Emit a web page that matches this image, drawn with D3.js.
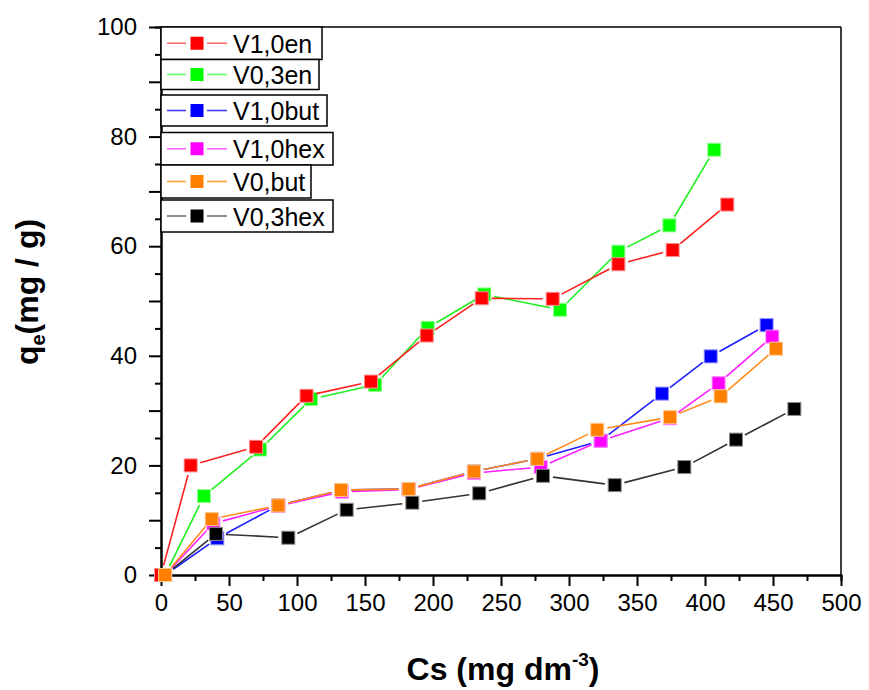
<!DOCTYPE html>
<html>
<head>
<meta charset="utf-8">
<script src="https://cdn.jsdelivr.net/npm/d3@7"></script>
<style>
  html, body { margin: 0; padding: 0; background: #fff; }
  svg { display: block; font-family: "Liberation Sans", Arial, sans-serif; }
</style>
</head>
<body>
<svg id="chart" width="869" height="690"></svg>
<script>
// ---------- data ----------
const seriesNames = ["V1,0en", "V0,3en", "V1,0but", "V1,0hex", "V0,but", "V0,3hex"];
const seriesColors = ["#ff0000", "#00ff00", "#0000ff", "#ff00ff", "#ff8000", "#000000"];
const lineColors = ["#ff2020", "#20f020", "#2020ff", "#ff20ff", "#ff8c1a", "#333333"];
const legendLineColors = ["#ff6a6a", "#66ff66", "#4040ff", "#ff60ff", "#ffa040", "#707070"];

const cs_V10en  = [0, 21.8, 69.9, 107, 154.4, 195.4, 235.8, 288, 336.3, 376.2, 416.4];
const qe_V10en  = [0, 20.0, 23.4, 32.7, 35.3, 43.7, 50.5, 50.4, 56.7, 59.3, 67.6];
const cs_V03en  = [3, 31.6, 72.8, 110.3, 157.4, 196.1, 237.7, 293.4, 336.3, 373.8, 406.8];
const qe_V03en  = [0, 14.4, 22.9, 32.1, 34.7, 45.1, 51.2, 48.4, 59.0, 63.8, 77.6];
const cs_V10but = [3, 41.4, 86.3, 132.4, 182.1, 230.1, 276.7, 323.3, 368.4, 404.2, 445.3];
const qe_V10but = [0, 6.7, 12.7, 15.5, 15.7, 18.9, 21.2, 24.5, 33.1, 39.9, 45.6];
const cs_V10hex = [3, 38.5, 86.3, 133, 182, 230, 279.2, 323.3, 374.3, 410, 449.5];
const qe_V10hex = [0, 9.4, 12.6, 15.2, 15.6, 18.6, 19.7, 24.5, 28.6, 35.0, 43.5];
const cs_V0but  = [3, 37.3, 86.3, 132.4, 182.1, 230.1, 276.7, 320.8, 374.3, 411.5, 452.2];
const qe_V0but  = [0, 10.2, 12.7, 15.5, 15.7, 18.9, 21.2, 26.5, 28.8, 32.6, 41.3];
const cs_V03hex = [3, 40.4, 93.6, 136.5, 184.8, 234, 280.9, 333.6, 384.8, 422.8, 465.7];
const qe_V03hex = [0, 7.5, 6.8, 11.9, 13.2, 14.9, 18.1, 16.4, 19.7, 24.7, 30.3];

const xTicksMajor = [0, 50, 100, 150, 200, 250, 300, 350, 400, 450, 500];
const xTicksMinor = [25, 75, 125, 175, 225, 275, 325, 375, 425, 475];
const yTicksMajor = [0, 10, 20, 30, 40, 50, 60, 70, 80, 90, 100];
const yTicksMinor = [5, 15, 25, 35, 45, 55, 65, 75, 85, 95];
const yTickLabels = [0, 20, 40, 60, 80, 100];

const allCs = [cs_V10en, cs_V03en, cs_V10but, cs_V10hex, cs_V0but, cs_V03hex];
const allQe = [qe_V10en, qe_V03en, qe_V10but, qe_V10hex, qe_V0but, qe_V03hex];

// ---------- layout ----------
const L = 161, R = 841, T = 27, B = 575;
const svg = d3.select("#chart");
const x = d3.scaleLinear().domain([0, 500]).range([L, R]);
const y = d3.scaleLinear().domain([0, 100]).range([B, T]);

const series = seriesNames.map((name, i) => ({
  name, color: seriesColors[i], line: lineColors[i], legendLine: legendLineColors[i],
  pts: allCs[i].map((c, j) => ({ x: c, y: allQe[i][j] }))
}));

// frame (top and right)
svg.append("line").attr("x1", L).attr("x2", R).attr("y1", T).attr("y2", T)
  .attr("stroke", "#000").attr("stroke-width", 1.5);
svg.append("line").attr("x1", R).attr("x2", R).attr("y1", T).attr("y2", B)
  .attr("stroke", "#000").attr("stroke-width", 1.5);

// axes
function styleAxis(g) {
  g.select(".domain").attr("stroke", "#000").attr("stroke-width", 2);
  g.selectAll(".tick line").attr("stroke", "#000").attr("stroke-width", 2);
  g.selectAll(".tick text").attr("fill", "#000").attr("font-size", 24)
    .attr("font-family", "'Liberation Sans', Arial, sans-serif");
}
const gxMinor = svg.append("g").attr("transform", `translate(0,${B})`)
  .call(d3.axisBottom(x).tickValues(xTicksMinor).tickSize(6).tickFormat(""));
styleAxis(gxMinor);
const gx = svg.append("g").attr("transform", `translate(0,${B})`)
  .call(d3.axisBottom(x).tickValues(xTicksMajor).tickSize(11).tickSizeOuter(0).tickPadding(8).tickFormat(d3.format("d")));
styleAxis(gx);
const gyMinor = svg.append("g").attr("transform", `translate(${L},0)`)
  .call(d3.axisLeft(y).tickValues(yTicksMinor).tickSize(6).tickFormat(""));
styleAxis(gyMinor);
const gy = svg.append("g").attr("transform", `translate(${L},0)`)
  .call(d3.axisLeft(y).tickValues(yTicksMajor).tickSize(12).tickSizeOuter(0).tickPadding(12)
    .tickFormat(d => yTickLabels.includes(d) ? d : ""));
styleAxis(gy);

// axis titles
const xt = svg.append("text").attr("x", 503).attr("y", 680).attr("text-anchor", "middle")
  .attr("font-size", 32).attr("font-weight", "bold").attr("fill", "#000");
xt.append("tspan").text("Cs (mg dm");
xt.append("tspan").attr("dy", -14).attr("font-size", 19).text("-3");
xt.append("tspan").attr("dy", 14).text(")");

const yt = svg.append("text").attr("transform", "translate(38,292) rotate(-90)")
  .attr("text-anchor", "middle").attr("font-size", 32).attr("font-weight", "bold").attr("fill", "#000");
yt.append("tspan").text("q");
yt.append("tspan").attr("dy", 7).attr("font-size", 20).text("e");
yt.append("tspan").attr("dy", -7).text("(mg / g)");

// series: lines with gaps near markers, then markers
const drawOrder = [1, 0, 2, 3, 5, 4];
const gap = 10, ms = 13;
drawOrder.forEach(i => {
  const s = series[i];
  const g = svg.append("g");
  const segs = d3.pairs(s.pts).map(([a, b]) => {
    const x1 = x(a.x), y1 = y(a.y), x2 = x(b.x), y2 = y(b.y);
    const len = Math.hypot(x2 - x1, y2 - y1);
    const ux = (x2 - x1) / len, uy = (y2 - y1) / len;
    return { x1: x1 + ux * gap, y1: y1 + uy * gap, x2: x2 - ux * gap, y2: y2 - uy * gap, ok: len > 2 * gap };
  }).filter(d => d.ok);
  g.selectAll("line").data(segs).join("line")
    .attr("x1", d => d.x1).attr("y1", d => d.y1).attr("x2", d => d.x2).attr("y2", d => d.y2)
    .attr("stroke", s.line).attr("stroke-width", 1.6);
  g.selectAll("rect").data(s.pts).join("rect")
    .attr("x", d => x(d.x) - ms / 2).attr("y", d => y(d.y) - ms / 2)
    .attr("width", ms).attr("height", ms)
    .attr("fill", s.color)
    .attr("stroke", d3.interpolateRgb(s.color, "#fff")(0.55)).attr("stroke-width", 1);
});

// legend (individual boxes)
const legTops = [27, 59.5, 95, 132.5, 165, 200];
const legHeights = [32.5, 30, 31, 32.5, 33, 32];
const legRights = [322, 319, 327, 333, 311, 333];
series.forEach((s, i) => {
  const g = svg.append("g");
  const top = legTops[i], h = legHeights[i], cy = top + h / 2;
  g.append("rect").attr("x", L).attr("y", top).attr("height", h)
    .attr("width", legRights[i] - L)
    .attr("fill", "#fff").attr("stroke", "#000").attr("stroke-width", 1.5);
  g.append("line").attr("x1", 167).attr("x2", 186).attr("y1", cy).attr("y2", cy)
    .attr("stroke", s.legendLine).attr("stroke-width", 1.6);
  g.append("line").attr("x1", 207).attr("x2", 227).attr("y1", cy).attr("y2", cy)
    .attr("stroke", s.legendLine).attr("stroke-width", 1.6);
  g.append("rect").attr("x", 197 - ms / 2).attr("y", cy - ms / 2).attr("width", ms).attr("height", ms)
    .attr("fill", s.color);
  g.append("text").attr("x", 233).attr("y", cy + 9.5).attr("font-size", 25)
    .attr("fill", "#000").text(s.name);
});
</script>
</body>
</html>
